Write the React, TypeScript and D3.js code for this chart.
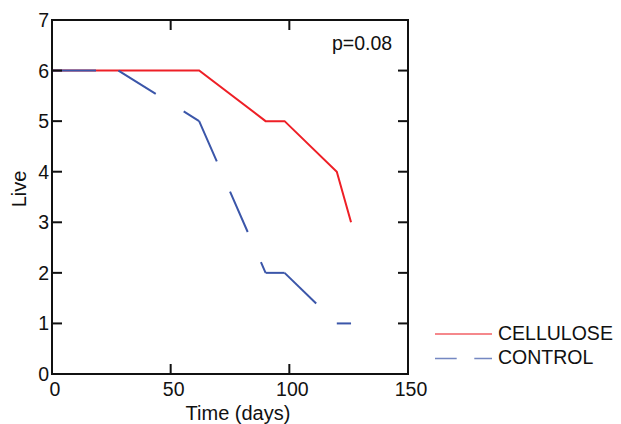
import React from 'react';
import * as d3 from 'd3';

// survival curves
const days = [0, 28, 62, 90, 98, 120, 126];
const cellulose = [6, 6, 6, 5, 5, 4, 3];
const control = [6, 6, 5, 2, 2, 1, 1];
const xTicks = [0, 50, 100, 150];
const yTicks = [0, 1, 2, 3, 4, 5, 6, 7];

const RED = '#ee1f26';
const BLUE = '#3b56a9';
const FONT = 'Arial, "Liberation Sans", sans-serif';

const App = () => {
  const left = 52, right = 408, top = 20, bottom = 374;
  const x = d3.scaleLinear().domain([0, 150]).range([left, right]);
  const y = d3.scaleLinear().domain([0, 7]).range([bottom, top]);

  const line = d3.line<[number, number]>()
    .x(d => x(d[0]))
    .y(d => y(d[1]));

  const redPts: [number, number][] = days.map((d, i) => [d, cellulose[i]]);
  const bluePts: [number, number][] = days.map((d, i) => [d, control[i]]);
  // the dash pattern restarts at every vertex, so draw each piece on its own
  const blueSegs = d3.pairs(bluePts);

  const tick = 10;

  return (
    <svg width={621} height={424} style={{ position: 'absolute', left: 0, top: 0 }}
      fontFamily={FONT}>
      <rect width={621} height={424} fill="#fff" />

      <path d={line(redPts) || ''} fill="none" stroke={RED} strokeWidth={2} />
      {blueSegs.map((s, i) => (
        <path key={i} d={line(s) || ''} fill="none" stroke={BLUE} strokeWidth={2}
          strokeDasharray="44,33" />
      ))}

      {/* frame and inward ticks */}
      <rect x={left} y={top} width={right - left} height={bottom - top}
        fill="none" stroke="#111" strokeWidth={2} />
      {yTicks.map(t => (
        <g key={'y' + t}>
          <line x1={left} x2={left + tick} y1={y(t)} y2={y(t)} stroke="#111" strokeWidth={2} />
          <line x1={right - tick} x2={right} y1={y(t)} y2={y(t)} stroke="#111" strokeWidth={2} />
          <text x={left - 3} y={y(t) + 7} textAnchor="end" fontSize={19.5} fill="#111">{t}</text>
        </g>
      ))}
      {xTicks.map(t => (
        <g key={'x' + t}>
          <line x1={x(t)} x2={x(t)} y1={bottom} y2={bottom - tick} stroke="#111" strokeWidth={2} />
          <line x1={x(t)} x2={x(t)} y1={top} y2={top + tick} stroke="#111" strokeWidth={2} />
          <text x={x(t) + 3} y={396} textAnchor="middle" fontSize={19.5} fill="#111">{t}</text>
        </g>
      ))}

      <text x={(left + right) / 2 + 8} y={420} textAnchor="middle" fontSize={20} fill="#111">
        Time (days)
      </text>
      <text transform={`translate(26,${(top + bottom) / 2 - 8}) rotate(-90)`} textAnchor="middle"
        fontSize={20} fill="#111">Live</text>
      <text x={332} y={49.5} fontSize={19.5} fill="#111">p=0.08</text>

      {/* legend */}
      <line x1={435} x2={492} y1={334} y2={334} stroke={RED} strokeWidth={1.3} opacity={0.7} />
      <text x={498} y={339.5} fontSize={19.5} fill="#111">CELLULOSE</text>
      <line x1={435} x2={492} y1={358.5} y2={358.5} stroke={BLUE} strokeWidth={1.3} opacity={0.7}
        strokeDasharray="21.7,17.6" />
      <text x={498} y={364} fontSize={19.5} fill="#111">CONTROL</text>
    </svg>
  );
};

export default App;
